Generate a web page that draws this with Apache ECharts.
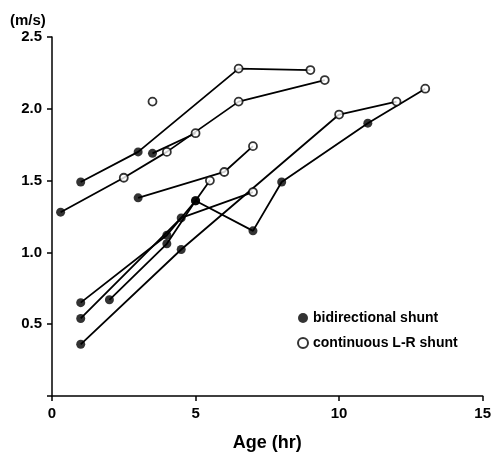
<!DOCTYPE html>
<html>
<head>
<meta charset="utf-8">
<script src="https://cdn.jsdelivr.net/npm/echarts@6/dist/echarts.min.js"></script>
<style>
  html, body { margin: 0; padding: 0; background: #fff; }
  #chart { width: 494px; height: 457px; }
</style>
</head>
<body>
<div id="chart"></div>
<script>
// each patient: [age (hr), velocity (m/s), shunt type] ; b = bidirectional, c = continuous L-R
const patient1 = [[1, 1.49, "b"], [3, 1.70, "b"], [6.5, 2.28, "c"], [9, 2.27, "c"]];
const patient2 = [[0.3, 1.28, "b"], [2.5, 1.52, "c"], [4.0, 1.70, "c"], [6.5, 2.05, "c"], [9.5, 2.20, "c"]];
const patient3 = [[3.5, 1.69, "b"], [5.0, 1.83, "c"]];
const patient4 = [[3.0, 1.38, "b"], [6.0, 1.56, "c"], [7.0, 1.74, "c"]];
const patient5 = [[1, 0.65, "b"], [4, 1.12, "b"], [5, 1.36, "b"], [5.5, 1.50, "c"]];
const patient6 = [[1, 0.54, "b"], [4.5, 1.24, "b"], [7, 1.42, "c"]];
const patient7 = [[2, 0.67, "b"], [4, 1.06, "b"], [5, 1.36, "b"], [7, 1.15, "b"], [8, 1.49, "b"], [11, 1.90, "b"], [13, 2.14, "c"]];
const patient8 = [[1, 0.36, "b"], [4.5, 1.02, "b"], [10, 1.96, "c"], [12, 2.05, "c"]];
const patient9 = [[3.5, 2.05, "c"]];

const patients = [patient1, patient2, patient3, patient4, patient5, patient6, patient7, patient8, patient9];
const yTicks = [0.5, 1.0, 1.5, 2.0, 2.5];

const chart = echarts.init(document.getElementById("chart"));

const lineSeries = patients.map((p) => ({
  type: "line",
  data: p.map((d) => [d[0], d[1]]),
  symbol: "none",
  silent: true,
  lineStyle: { color: "#000", width: 1.8 },
  z: 1,
}));

const allPoints = patients.flat();
const font = "Liberation Sans";

const option = {
  animation: false,
  title: {
    text: "(m/s)",
    left: 5,
    top: 8,
    textStyle: { fontFamily: font, fontWeight: "bold", fontSize: 15, color: "#000" },
  },
  legend: {
    orient: "vertical",
    left: 292,
    top: 306,
    itemWidth: 10,
    itemHeight: 10,
    itemGap: 11,
    data: ["bidirectional shunt", "continuous L-R shunt"],
    textStyle: { fontFamily: font, fontWeight: "bold", fontSize: 14, color: "#000" },
  },
  grid: { left: 52, right: 11, top: 37, bottom: 60 },
  xAxis: {
    type: "value",
    min: 0,
    max: 15,
    interval: 5,
    name: "Age (hr)",
    nameLocation: "middle",
    nameGap: 38,
    nameTextStyle: { fontFamily: font, fontWeight: "bold", fontSize: 18, color: "#000" },
    splitLine: { show: false },
    axisLine: { lineStyle: { color: "#000", width: 1.5 } },
    axisTick: { show: true, length: 5, lineStyle: { color: "#000", width: 1.5 } },
    axisLabel: { fontFamily: font, fontWeight: "bold", fontSize: 15, color: "#000", margin: 10 },
  },
  yAxis: {
    type: "value",
    min: 0,
    max: 2.5,
    interval: 0.5,
    splitLine: { show: false },
    axisLine: { show: true, lineStyle: { color: "#000", width: 1.5 } },
    axisTick: { show: true, length: 5, lineStyle: { color: "#000", width: 1.5 } },
    axisLabel: {
      fontFamily: font,
      fontWeight: "bold",
      fontSize: 15,
      color: "#000",
      margin: 10,
      formatter: (v) => (yTicks.includes(v) ? v.toFixed(1) : ""),
    },
  },
  series: [
    ...lineSeries,
    {
      name: "bidirectional shunt",
      type: "scatter",
      data: allPoints.filter((d) => d[2] === "b").map((d) => [d[0], d[1]]),
      symbol: "circle",
      symbolSize: 9,
      itemStyle: { color: "#000" },
      z: 3,
    },
    {
      name: "continuous L-R shunt",
      type: "scatter",
      data: allPoints.filter((d) => d[2] === "c").map((d) => [d[0], d[1]]),
      symbol: "circle",
      symbolSize: 8,
      itemStyle: { color: "#fff", borderColor: "#000", borderWidth: 1.8 },
      z: 3,
    },
  ],
};

chart.setOption(option);
window.addEventListener("resize", () => chart.resize());
</script>
</body>
</html>
